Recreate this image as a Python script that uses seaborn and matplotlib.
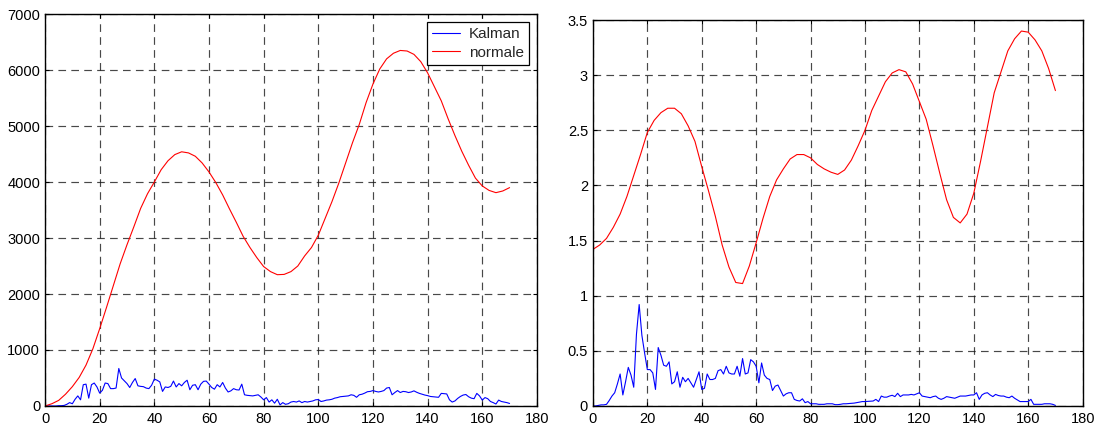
import numpy as np
import pandas as pd
import seaborn as sns
import matplotlib
matplotlib.use('Agg')
import matplotlib.pyplot as plt
from matplotlib.ticker import FuncFormatter

# sample index for the noisy (Kalman) series
x_kal = list(range(0, 171))
# coarser grid for the smooth (normale) series
x_norm = [i * 2.5 for i in range(0, 69)]

kalman_left = [0, 0, 0, 0, 0, 5, 5, 10, 30, 60, 40, 120, 180, 110, 380, 390, 140, 380, 410, 340,
               230, 280, 410, 400, 310, 310, 320, 670, 500, 450, 400, 330, 420, 490, 360, 350, 345, 320, 310, 370,
               480, 460, 430, 260, 340, 330, 350, 445, 340, 400, 360, 420, 460, 290, 370, 380, 290, 390, 440, 445,
               390, 330, 300, 380, 340, 420, 320, 250, 270, 310, 290, 285, 390, 200, 190, 185, 180, 190, 200, 160,
               110, 150, 70, 110, 50, 120, 20, 60, 30, 40, 70, 80, 70, 90, 60, 80, 70, 80, 90, 110,
               115, 80, 90, 105, 110, 120, 140, 150, 165, 170, 175, 180, 200, 190, 155, 200, 210, 230, 255, 260,
               275, 260, 250, 260, 275, 320, 330, 200, 240, 275, 240, 260, 255, 240, 250, 270, 245, 225, 210, 195,
               185, 170, 165, 160, 155, 225, 220, 215, 110, 70, 90, 135, 170, 195, 205, 165, 140, 130, 225, 180,
               105, 150, 130, 80, 60, 35, 105, 80, 70, 60, 45]

normale_left = [0, 40, 100, 210, 345, 510, 730, 1020, 1380, 1760, 2150, 2540, 2880, 3200, 3530, 3790,
                4000, 4220, 4380, 4490, 4540, 4520, 4460, 4340, 4180, 3990, 3770, 3520, 3280, 3030, 2830, 2650,
                2490, 2400, 2345, 2350, 2400, 2500, 2680, 2830, 3050, 3350, 3650, 3980, 4340, 4700, 5030, 5420,
                5750, 6020, 6200, 6300, 6350, 6340, 6280, 6150, 5950, 5700, 5450, 5130, 4830, 4550, 4300, 4070,
                3930, 3850, 3810, 3840, 3900]

kalman_right = [0.0, 0.0, 0.005, 0.01, 0.01, 0.015, 0.05, 0.09, 0.12, 0.2, 0.29, 0.10, 0.22, 0.35, 0.28,
                0.17, 0.65, 0.92, 0.64, 0.48, 0.33, 0.33, 0.30, 0.15, 0.53, 0.46, 0.37, 0.36, 0.40, 0.20,
                0.22, 0.31, 0.17, 0.26, 0.22, 0.25, 0.21, 0.17, 0.24, 0.31, 0.15, 0.16, 0.29, 0.24, 0.24,
                0.25, 0.32, 0.33, 0.29, 0.36, 0.30, 0.29, 0.29, 0.36, 0.27, 0.43, 0.29, 0.30, 0.42, 0.40,
                0.36, 0.21, 0.39, 0.28, 0.25, 0.24, 0.14, 0.18, 0.19, 0.14, 0.09, 0.11, 0.12, 0.12, 0.06,
                0.05, 0.045, 0.065, 0.03, 0.04, 0.02, 0.02, 0.02, 0.015, 0.015, 0.015, 0.02, 0.02, 0.02,
                0.012, 0.012, 0.015, 0.02, 0.02, 0.022, 0.024, 0.026, 0.03, 0.035, 0.04, 0.04, 0.042, 0.045,
                0.045, 0.06, 0.04, 0.09, 0.08, 0.08, 0.09, 0.097, 0.085, 0.115, 0.085, 0.1, 0.1, 0.1, 0.105,
                0.1, 0.11, 0.12, 0.09, 0.085, 0.08, 0.075, 0.085, 0.09, 0.07, 0.06, 0.07, 0.085, 0.08, 0.075,
                0.07, 0.08, 0.09, 0.09, 0.09, 0.095, 0.1, 0.1, 0.12, 0.06, 0.1, 0.115, 0.12, 0.1, 0.085,
                0.105, 0.095, 0.09, 0.09, 0.08, 0.075, 0.09, 0.07, 0.055, 0.04, 0.04, 0.04, 0.04, 0.06,
                0.015, 0.015, 0.015, 0.015, 0.02, 0.02, 0.02, 0.015, 0.005]

normale_right = [1.42, 1.46, 1.52, 1.62, 1.74, 1.90, 2.09, 2.28, 2.48, 2.59, 2.66, 2.70, 2.70, 2.65, 2.54,
                 2.40, 2.17, 1.95, 1.72, 1.46, 1.26, 1.12, 1.11, 1.27, 1.48, 1.70, 1.90, 2.05, 2.15, 2.24,
                 2.28, 2.28, 2.25, 2.19, 2.15, 2.12, 2.10, 2.14, 2.23, 2.36, 2.50, 2.68, 2.81, 2.94, 3.02,
                 3.05, 3.03, 2.92, 2.76, 2.60, 2.36, 2.11, 1.87, 1.71, 1.66, 1.74, 1.93, 2.22, 2.53, 2.84,
                 3.03, 3.22, 3.33, 3.40, 3.39, 3.32, 3.22, 3.06, 2.86]

xticks = [0, 20, 40, 60, 80, 100, 120, 140, 160, 180]

sns.set_theme(style='ticks')
plt.rcParams['font.family'] = ['Liberation Sans', 'DejaVu Sans']
plt.rcParams['lines.scale_dashes'] = False

fig = plt.figure(figsize=(10.98, 4.26), dpi=100)
ax1 = fig.add_axes([0.041, 0.047, 0.448, 0.92])
ax2 = fig.add_axes([0.540, 0.047, 0.446, 0.906])


def setup(ax, ymax, ystep):
    ax.set_xlim(0, 180)
    ax.set_ylim(0, ymax)
    ax.set_xticks(xticks)
    ax.set_yticks(np.arange(0, ymax + ystep / 2, ystep))
    ax.yaxis.set_major_formatter(FuncFormatter(lambda v, p: '%g' % v))
    ax.grid(True, color='#1a1a1a', alpha=0.8, linewidth=0.85, linestyle=(0, (5.5, 3.8)))
    ax.tick_params(direction='in', length=3, width=0.8, labelsize=10.5, colors='black',
                   top=True, right=True)
    ax.tick_params(axis='x', pad=4.5)
    ax.tick_params(axis='y', pad=3.5)
    for s in ax.spines.values():
        s.set_visible(True)
        s.set_color('black')
        s.set_linewidth(1.0)
    ax.set_xlabel('')
    ax.set_ylabel('')


df_left_k = pd.DataFrame({'x': x_kal, 'y': kalman_left})
df_left_n = pd.DataFrame({'x': x_norm, 'y': normale_left})
sns.lineplot(data=df_left_k, x='x', y='y', ax=ax1, color='#0000ff', lw=0.8, label='Kalman')
sns.lineplot(data=df_left_n, x='x', y='y', ax=ax1, color='#ff0000', lw=0.8, label='normale')
setup(ax1, 7000, 1000)
leg = ax1.legend(loc='upper right', fontsize=11, fancybox=False, edgecolor='black',
                 framealpha=1, handlelength=1.8, borderaxespad=0.5, borderpad=0.35,
                 labelspacing=0.3, handletextpad=0.6)
leg.get_frame().set_linewidth(0.9)

df_right_k = pd.DataFrame({'x': x_kal, 'y': kalman_right})
df_right_n = pd.DataFrame({'x': x_norm, 'y': normale_right})
sns.lineplot(data=df_right_k, x='x', y='y', ax=ax2, color='#0000ff', lw=0.8, legend=False)
sns.lineplot(data=df_right_n, x='x', y='y', ax=ax2, color='#ff0000', lw=0.8, legend=False)
setup(ax2, 3.5, 0.5)

fig.savefig('out.png', dpi=100)
